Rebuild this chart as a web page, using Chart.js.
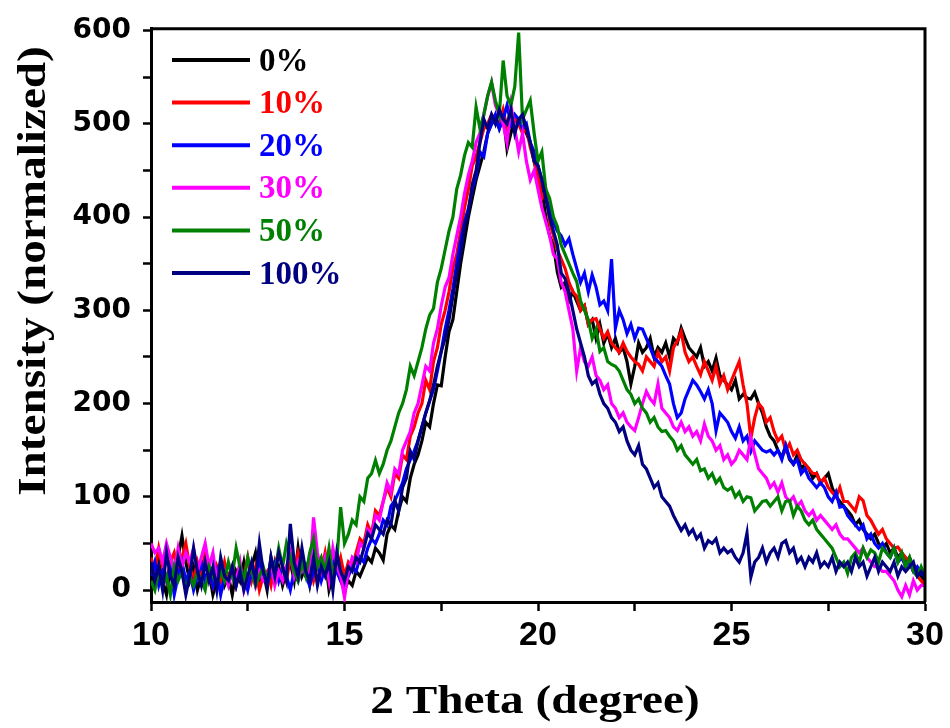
<!DOCTYPE html>
<html>
<head>
<meta charset="utf-8">
<script src="https://cdn.jsdelivr.net/npm/chart.js@4/dist/chart.umd.min.js"></script>
<style>
  body { margin: 0; background: #fff; }
</style>
</head>
<body>
<canvas id="xrdChart" width="950" height="728"></canvas>
<script>
// scan from 10 to 30 degree, 0.1 step
var thetaStart = 10
var thetaStep = 0.1

var seriesNames = ['0%', '10%', '20%', '30%', '50%', '100%']
var seriesColors = ['#000000', '#ff0000', '#0000ff', '#ff00ff', '#008000', '#000080']

var xTicks = [10, 12.5, 15, 17.5, 20, 22.5, 25, 27.5, 30]
var yTicks = [0, 50, 100, 150, 200, 250, 300, 350, 400, 450, 500, 550, 600]

var int0 = [
  20, 5, 30, 10, -5, 25, 15, 35, 58, 30,
  10, 25, 0, 15, 35, 20, -5, 10, 30, 5,
  15, -5, 20, 10, 30, 5, 25, 40, 10, 20,
  0, 35, 15, 25, 5, 20, 30, 10, 45, 15,
  25, 5, 30, 10, 20, 35, 0, 15, 25, 10,
  0, 10, 5, 20, 15, 25, 35, 30, 45, 40,
  32, 60, 70, 65, 85, 100, 95, 120, 135, 145,
  160, 180, 175, 200, 220, 219, 250, 277, 290, 320,
  350, 375, 400, 420, 440, 455, 470, 490, 500, 505,
  495, 510, 473, 490, 505, 500, 510, 490, 480, 460,
  440, 430, 400, 380, 370, 341, 325, 330, 310, 320,
  310, 300, 305, 285, 290, 270, 285, 265, 275, 260,
  270, 255, 260, 245, 221, 240, 265, 255, 260, 270,
  250, 260, 255, 265, 250, 270, 265, 281, 270, 260,
  255, 250, 260, 240, 245, 235, 249, 230, 225, 220,
  215, 225, 205, 210, 206, 205, 212, 200, 190, 175,
  165, 160, 150, 142, 155, 140, 135, 145, 130, 135,
  130, 120, 125, 115, 120, 125, 110, 100, 95, 90,
  85, 80, 70, 75, 65, 60, 55, 60, 50, 45,
  50, 40, 45, 35, 40, 30, 35, 25, 20, 15,
  10
]

var int10 = [
  35, 20, 45, 25, 10, 30, 40, 20, 35, 50,
  25, 10, 30, 15, 40, 20, 5, 25, 10, 30,
  10, 25, 5, 20, 15, 35, 10, 25, 0, 15,
  20, 5, 30, 15, 25, 10, 35, 20, 40, 25,
  15, 30, 10, 25, 20, 40, 15, 30, 20, 35,
  15, 30, 25, 40, 55, 50, 70, 60, 85, 80,
  95, 110, 100, 125, 120, 145, 140, 165, 175, 190,
  200, 225, 215, 245, 260, 285, 300, 320, 345, 360,
  385, 410, 430, 455, 465, 480, 495, 500, 510, 505,
  500, 515, 495, 510, 505, 500, 490, 495, 475, 460,
  445, 420, 430, 395, 380, 365, 355, 345, 330, 320,
  315, 300, 305, 285, 290, 291, 280, 270, 277, 265,
  260, 255, 265, 256, 250, 245, 242, 235, 250, 245,
  240, 255, 245, 250, 235, 260, 267, 277, 255, 245,
  250, 240, 231, 245, 235, 225, 240, 221, 230, 215,
  225, 235, 245, 220, 200, 163, 185, 200, 195, 180,
  185, 170, 160, 165, 150, 157, 145, 150, 140, 135,
  130, 125, 125, 115, 120, 110, 105, 100, 110, 95,
  95, 90, 85, 100, 96, 80, 75, 67, 60, 65,
  55, 50, 45, 46, 40, 35, 30, 20, 15, 10,
  5
]

var int20 = [
  15, 30, 5, 20, 10, 25, -5, 15, 30, 10,
  20, 0, 15, 30, 10, 25, 5, 20, -5, 15,
  10, 20, 5, 25, 15, 0, 20, 10, 30, 15,
  5, 20, 30, 10, 25, 15, 0, 20, 10, 25,
  15, 5, 20, 30, 10, 25, 15, 35, 20, 10,
  5, 15, 25, 20, 35, 30, 45, 55, 50, 60,
  75, 70, 90, 96, 105, 115, 130, 140, 149, 160,
  175, 190, 203, 215, 235, 256, 280, 300, 323, 350,
  375, 395, 409, 430, 445, 470, 465, 490, 500, 510,
  495, 505, 520, 500, 510, 505, 495, 500, 480, 470,
  455, 440, 420, 410, 395, 385, 380, 370, 377, 360,
  345, 330, 340, 320, 338, 325, 306, 310, 300, 355,
  281, 300, 290, 275, 285, 270, 281, 280, 270, 260,
  249, 245, 240, 230, 221, 200, 185, 190, 205, 215,
  225, 220, 213, 205, 215, 200, 171, 190, 185, 180,
  170, 163, 175, 160, 165, 149, 160, 155, 150, 148,
  150, 145, 150, 140, 155, 142, 135, 140, 125, 130,
  120, 115, 110, 115, 110, 100, 95, 105, 89, 90,
  80, 75, 70, 65, 70, 55, 60, 50, 45, 50,
  40, 35, 45, 30, 35, 25, 30, 20, 25, 18,
  15
]

var int30 = [
  50, 40, 45, 30, 50, 35, 20, 45, 25, 40,
  30, 45, 20, 35, 50, 25, 40, 10, 30, 20,
  5, 20, 10, 30, 0, 15, 25, 5, 20, 10,
  15, 30, 5, 20, 10, 25, 40, 15, 30, 20,
  25, 15, 78, 40, 20, 35, 10, 45, 25, 15,
  -8, 20, 35, 30, 50, 45, 65, 60, 80, 75,
  95, 115, 105, 130, 125, 150, 160, 170, 190, 200,
  220, 240, 235, 265, 280, 305, 325, 335, 360, 380,
  400, 425, 445, 460, 480, 490, 510, 530, 544, 520,
  510, 500, 480, 520, 495, 470, 490, 460, 440, 450,
  430, 410, 395, 380, 360, 355, 330, 320, 300, 280,
  235, 260, 245, 240, 250, 230, 225, 215, 220, 200,
  195, 185, 190, 180, 175, 171, 185, 200, 213, 205,
  200, 221, 195, 190, 185, 175, 171, 180, 170, 175,
  165, 170, 160, 178, 165, 160, 150, 155, 140, 145,
  135, 140, 150, 145, 140, 163, 146, 130, 125, 120,
  110, 115, 105, 115, 100, 95, 100, 90, 95, 85,
  80, 85, 75, 80, 75, 70, 65, 70, 60, 55,
  55, 50, 45, 40, 45, 35, 30, 25, 25, 20,
  20, 15, 10, 0, -7, 5, -5, 10, 0, 5,
  5
]

var int50 = [
  10, 0, 20, 5, 15, -5, 25, 10, 20, 0,
  15, 5, 20, 10, 0, 25, 15, 5, 20, 10,
  30, 15, 45, 25, 10, 35, 20, 5, 15, 25,
  10, 30, 20, 45, 25, 50, 35, 20, 10, 30,
  15, 40, 55, 25, 35, 20, 45, 15, 30, 89,
  50, 60, 75, 70, 100, 95, 120, 125, 139, 125,
  135, 150, 160, 175, 190, 200, 215, 240, 230, 245,
  260, 280, 295, 302, 330, 345, 365, 385, 400, 430,
  445, 466, 480, 475, 518, 495, 510, 530, 545, 525,
  510, 568, 530, 520, 540, 598, 505, 515, 525, 490,
  460, 470, 430, 420, 400, 390, 370, 360, 350, 340,
  331, 310, 300, 290, 270, 280, 256, 260, 245, 242,
  240, 235, 225, 215, 210, 200, 205, 195, 190, 180,
  185, 175, 170, 171, 165, 160, 150, 155, 145, 140,
  135, 140, 128, 130, 120, 125, 115, 120, 110, 107,
  110, 100, 105, 95, 100, 99, 85, 90, 95, 96,
  90, 95, 100, 85, 95, 96, 80, 90, 85, 75,
  70, 75, 65, 60, 55, 50, 45, 35, 25, 30,
  18, 35, 40, 30, 45, 35, 43, 40, 30, 45,
  40, 35, 45, 30, 40, 25, 35, 20, 15, 25,
  15
]

var int100 = [
  30, 10, 25, 0, 40, 15, 5, 35, 20, -5,
  15, 45, 20, 5, 30, 10, 25, 0, 35, 15,
  10, 25, 5, 20, 0, 15, 30, 10, 50, 20,
  5, 35, 15, 40, 25, 10, 71, 30, 15, 45,
  20, 10, 35, 5, 25, 15, 30, 0, 40, 20,
  10, 25, 20, 35, 30, 45, 61, 55, 70, 65,
  60, 75, 70, 96, 85, 110, 120, 149, 140, 160,
  175, 190, 203, 220, 240, 256, 270, 290, 315, 340,
  360, 390, 405, 435, 450, 480, 505, 495, 510, 500,
  515, 505, 500, 515, 490, 505, 510, 495, 480, 460,
  455, 440, 420, 400, 385, 370, 340, 334, 320, 300,
  280, 265, 250, 230, 221, 225, 210, 200, 195, 185,
  180, 170, 175, 160, 150, 145, 155, 135, 130, 120,
  110, 115, 100, 95, 90, 80, 72, 64, 70, 60,
  65, 55, 60, 45, 53, 50, 55, 40, 45, 40,
  43, 35, 30, 40, 61, 14, 30, 35, 45, 30,
  40, 45, 35, 50, 53, 40, 45, 30, 35, 25,
  35, 30, 40, 25, 30, 25, 35, 20, 30, 25,
  30, 20, 35, 25, 30, 15, 25, 35, 20, 30,
  25, 20, 30, 15, 25, 20, 25, 30, 15, 20,
  15
]

var allSeries = [int0, int10, int20, int30, int50, int100]

function toPoints(values) {
  return values.map(function(v, i) {
    return {x: +(thetaStart + i * thetaStep).toFixed(1), y: v}
  })
}

var datasets = allSeries.map(function(values, k) {
  return {
    label: seriesNames[k],
    data: toPoints(values),
    borderColor: seriesColors[k],
    backgroundColor: seriesColors[k],
    borderWidth: 3.2,
    pointRadius: 0,
    tension: 0,
    // later series end up on top, like in the original plot
    order: allSeries.length - 1 - k
  }
})

// frame, inside legend and axis titles
var decorPlugin = {
  id: 'decor',
  afterDraw: function(chart) {
    var ctx = chart.ctx
    var area = chart.chartArea
    ctx.save()
    ctx.strokeStyle = '#000'
    ctx.lineWidth = 3
    ctx.beginPath()
    ctx.moveTo(area.left, area.top)
    ctx.lineTo(area.right, area.top)
    ctx.lineTo(area.right, area.bottom)
    ctx.stroke()

    // legend
    ctx.font = 'bold 33px "Liberation Serif", "Times New Roman", serif'
    ctx.textBaseline = 'middle'
    ctx.textAlign = 'left'
    seriesNames.forEach(function(name, k) {
      var rowY = 60 + k * 42.6
      ctx.strokeStyle = seriesColors[k]
      ctx.lineWidth = 4
      ctx.beginPath()
      ctx.moveTo(172, rowY)
      ctx.lineTo(250, rowY)
      ctx.stroke()
      ctx.fillStyle = seriesColors[k]
      ctx.fillText(name, 259, rowY + 2)
    })

    // axis titles, stretched along the text like in the source figure
    ctx.fillStyle = '#000'
    ctx.textAlign = 'center'
    ctx.textBaseline = 'alphabetic'
    ctx.font = 'bold 40px "Liberation Serif", "Times New Roman", serif'
    ctx.save()
    ctx.translate((area.left + area.right) / 2 - 3, 713)
    ctx.scale(1.18, 1)
    ctx.fillText('2 Theta (degree)', 0, 0)
    ctx.restore()

    ctx.textBaseline = 'middle'
    ctx.translate(35, 271)
    ctx.rotate(-Math.PI / 2)
    ctx.scale(1.18, 1)
    ctx.fillText('Intensity (normalized)', 0, 0)
    ctx.restore()
  }
}

var chartConfig = {
  type: 'line',
  data: {datasets: datasets},
  options: {
    responsive: false,
    animation: false,
    devicePixelRatio: 1,
    layout: {padding: {left: 0, top: 26, right: 25, bottom: 0}},
    plugins: {
      legend: {display: false},
      tooltip: {enabled: false}
    },
    scales: {
      x: {
        type: 'linear',
        min: 10,
        max: 30,
        afterFit: function(scale) { scale.height = 126 },
        afterBuildTicks: function(scale) {
          scale.ticks = xTicks.map(function(v) { return {value: v} })
        },
        grid: {drawOnChartArea: false, tickLength: 9, tickColor: '#000', tickWidth: 2.5},
        border: {color: '#000', width: 3},
        ticks: {
          color: '#000',
          padding: 4,
          maxRotation: 0,
          font: {family: '"Liberation Sans", Arial, sans-serif', weight: 'bold', size: 34},
          callback: function(v) { return v % 5 === 0 ? v : '' }
        }
      },
      y: {
        min: -12.8,
        max: 602,
        afterFit: function(scale) { scale.width = 151 },
        afterBuildTicks: function(scale) {
          scale.ticks = yTicks.map(function(v) { return {value: v} })
        },
        grid: {drawOnChartArea: false, tickLength: 8, tickColor: '#000', tickWidth: 2.5},
        border: {color: '#000', width: 3},
        ticks: {
          color: '#000',
          padding: 12,
          font: {family: '"DejaVu Sans", Arial, sans-serif', weight: 'bold', size: 28},
          callback: function(v) { return v % 100 === 0 ? v : '' }
        }
      }
    }
  },
  plugins: [decorPlugin]
}

var xrdChart = new Chart(document.getElementById('xrdChart'), chartConfig)
</script>
</body>
</html>
